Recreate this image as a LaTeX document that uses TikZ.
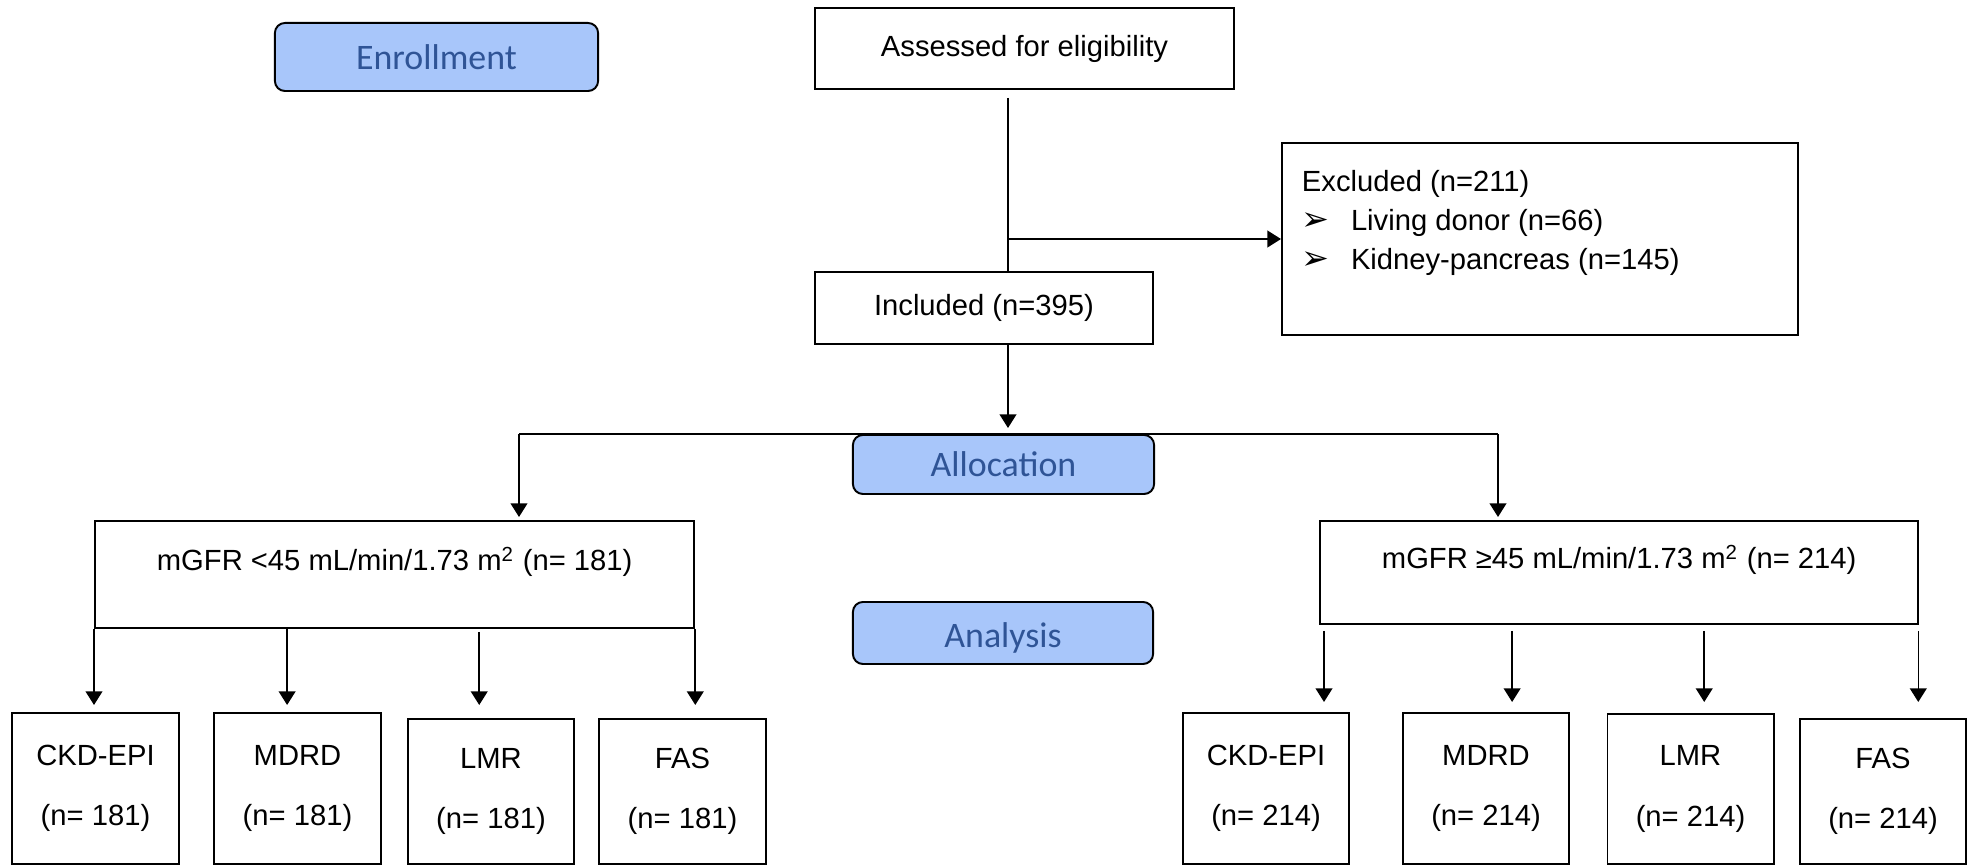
\documentclass[tikz,border=0pt]{standalone}
\usepackage{fontspec}
\setmainfont{Liberation Sans}
\newfontfamily\phasefont{Carlito}
\newfontfamily\dingfont{DejaVu Sans}
\usetikzlibrary{arrows.meta,positioning}
\definecolor{phasefill}{HTML}{A8C6FA}
\definecolor{phasetext}{HTML}{2F5496}

\begin{document}
\begin{tikzpicture}[x=0.01cm, y=0.01cm, font=\fontsize{8.3}{10}\selectfont,
  box/.style = {draw, line width=0.55pt, inner sep=0pt},
  phase/.style = {draw, line width=0.55pt, rounded corners=0.1cm, fill=phasefill, text=phasetext, font=\phasefont\fontsize{10.2}{12}\selectfont},
  leaf/.style = {box, anchor=north, minimum width=1.66cm, align=center, font=\fontsize{8.3}{17.1}\selectfont},
  arr/.style = {-{Triangle[length=3.9pt,width=4.8pt]}, line width=0.45pt}]
		\fill[white] (0,0) rectangle (1975,-865);
		\useasboundingbox (0,0) rectangle (1975,-865);
		% phases
		\node[phase, minimum width=3.23cm, minimum height=0.68cm] (enroll) at (436.5,-57) {Enrollment};
		\node[phase, minimum width=3.01cm, minimum height=0.59cm] (alloc) at (1003.5,-464.5) {Allocation};
		\node[phase, minimum width=3.00cm, minimum height=0.62cm, inner ysep=0pt, text height=10.5pt, text depth=2pt] (analysis) at (1003,-633) {Analysis};
		% flow
		\node[box, minimum width=4.19cm, minimum height=0.81cm] (assess) at (1024.5,-48.5) {Assessed for eligibility};
		\node[box, minimum width=3.38cm, minimum height=0.72cm] (incl) at (984,-308) {Included (n=395)};
		\node[box, anchor=north west, inner xsep=0.2cm] (excl) at (1281,-142) {\parbox[c][1.92cm][t]{4.76cm}{\fontsize{8.3}{11.2}\selectfont\vspace*{0.27cm}Excluded (n=211)\\
			\makebox[0.49cm][l]{\dingfont\fontsize{9.5}{11.2}\selectfont ➢}Living donor (n=66)\\
			\makebox[0.49cm][l]{\dingfont\fontsize{9.5}{11.2}\selectfont ➢}Kidney-pancreas (n=145)}};
		\node[box, anchor=north west, minimum width=5.99cm, text height=0.5cm, text depth=0.57cm] (low) at (94,-520) {mGFR <45 mL/min/1.73 m\textsuperscript{2} (n= 181)};
		\node[box, anchor=north west, minimum width=5.98cm, text height=0.48cm, text depth=0.55cm] (high) at (1319,-520) {mGFR ≥45 mL/min/1.73 m\textsuperscript{2} (n= 214)};
		% equations, mGFR <45
		\node[leaf, minimum height=1.51cm] (ckdL) at (95.5,-712) {CKD-EPI\\(n= 181)};
		\node[leaf, minimum height=1.51cm] (mdrdL) at (297.5,-712) {MDRD\\(n= 181)};
		\node[leaf, minimum height=1.45cm] (lmrL) at (491,-718) {LMR\\(n= 181)};
		\node[leaf, minimum height=1.45cm] (fasL) at (682.5,-718) {FAS\\(n= 181)};
		% equations, mGFR >=45
		\node[leaf, minimum height=1.51cm] (ckdR) at (1266,-712) {CKD-EPI\\(n= 214)};
		\node[leaf, minimum height=1.51cm] (mdrdR) at (1486,-712) {MDRD\\(n= 214)};
		\node[leaf, minimum height=1.50cm] (lmrR) at (1690.5,-713) {LMR\\(n= 214)};
		\node[leaf, minimum height=1.45cm] (fasR) at (1883,-718) {FAS\\(n= 214)};
		% connectors
		\coordinate (split) at (1008,-237);
		\coordinate (lbr) at (519,-434);
		\coordinate (rbr) at (1498,-434);
		\draw[line width=0.45pt, shorten <=0.08cm] (assess.south -| split) -- (incl.north -| split);
		\draw[arr] (split |- excl.west) -- (excl.west);
		\draw[arr, shorten >=0.06cm] (incl.south -| split) -- (lbr -| split);
		\draw[line width=0.45pt] (lbr) -- (rbr);
		\draw[arr, shorten >=0.03cm] (lbr) -- (lbr |- low.north);
		\draw[arr, shorten >=0.03cm] (rbr) -- (rbr |- high.north);
		\coordinate (l2) at ([xshift=1.93cm]low.south west);
		\coordinate (l3) at ([xshift=3.85cm]low.south west);
		\draw[arr, shorten >=0.07cm] (low.south west) -- (low.south west |- ckdL.north);
		\draw[arr, shorten >=0.07cm] (l2) -- (l2 |- mdrdL.north);
		\draw[arr, shorten <=0.03cm, shorten >=0.07cm] (l3) -- (l3 |- mdrdL.north);
		\draw[arr, shorten >=0.07cm] (low.south east) -- (low.south east |- ckdL.north);
		\coordinate (r1) at ([xshift=0.05cm]high.south west);
		\coordinate (r2) at ([xshift=1.93cm]high.south west);
		\coordinate (r3) at ([xshift=3.85cm]high.south west);
		\coordinate (r4) at ([xshift=-0.01cm]high.south east);
		\draw[arr, shorten <=0.06cm, shorten >=0.1cm] (r1) -- (r1 |- ckdR.north);
		\draw[arr, shorten <=0.06cm, shorten >=0.1cm] (r2) -- (r2 |- ckdR.north);
		\draw[arr, shorten <=0.06cm, shorten >=0.1cm] (r3) -- (r3 |- ckdR.north);
		\draw[arr, shorten <=0.06cm, shorten >=0.1cm] (r4) -- (r4 |- ckdR.north);
\end{tikzpicture}
\end{document}
